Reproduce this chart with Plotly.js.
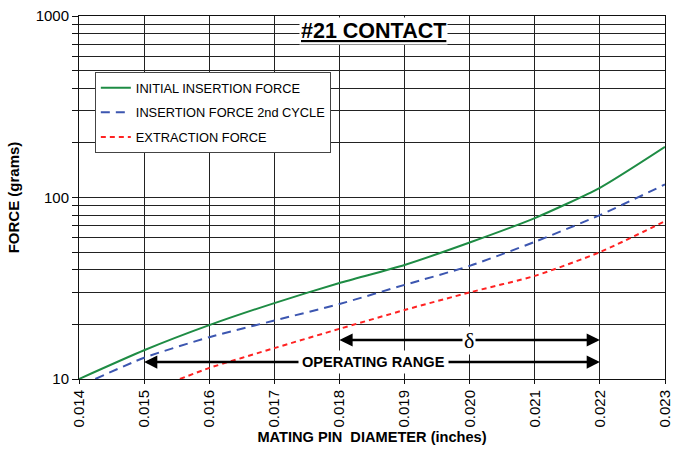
<!DOCTYPE html>
<html>
<head>
<meta charset="utf-8">
<script src="https://cdn.plot.ly/plotly-3.0.1.min.js"></script>
<style>html,body{margin:0;padding:0;background:#fff;}#chart{width:677px;height:450px;}</style>
</head>
<body>
<div id="chart"></div>
<script>
// ---- data ----
const initialX = [0.014, 0.015, 0.016, 0.017, 0.018, 0.019, 0.020, 0.021, 0.022, 0.023];
const initialY = [10, 14.4, 19.8, 26.2, 33.8, 42.5, 56.5, 77, 113, 190];

const secondX = [0.01425, 0.015, 0.016, 0.017, 0.018, 0.019, 0.020, 0.021, 0.022, 0.023];
const secondY = [10, 13.1, 17, 21, 25.9, 33, 42, 57, 80, 118];

const extractX = [0.01555, 0.016, 0.017, 0.018, 0.019, 0.020, 0.021, 0.022, 0.023];
const extractY = [10, 11.5, 14.8, 18.9, 24, 30, 37, 50, 74];

const xTicks = [0.014, 0.015, 0.016, 0.017, 0.018, 0.019, 0.020, 0.021, 0.022, 0.023];
const xTickText = xTicks.map(v => v.toFixed(3));
const yTicks = [10, 100, 1000];
const yMinor = [20, 30, 40, 50, 60, 70, 80, 90, 200, 300, 400, 500, 600, 700, 800, 900];

const opRange = [0.015, 0.022];   // OPERATING RANGE arrow ends
const deltaRange = [0.018, 0.022]; // delta arrow ends
const opLevel = 12.4, deltaLevel = 16.4;

const font = "Liberation Sans, Arial, Helvetica, sans-serif";

const traces = [
  {x: initialX, y: initialY, name: 'INITIAL INSERTION FORCE', mode: 'lines',
   line: {color: '#1e8c44', width: 2, shape: 'spline', smoothing: 0.6}, legendgroup: 'a'},
  {x: secondX, y: secondY, name: 'INSERTION FORCE 2nd CYCLE', mode: 'lines',
   line: {color: '#3c56b0', width: 2, dash: '9px,6px', shape: 'spline', smoothing: 0.6}, legendgroup: 'b'},
  {x: extractX, y: extractY, name: 'EXTRACTION FORCE', mode: 'lines',
   line: {color: '#ff2222', width: 2, dash: '5px,4px', shape: 'spline', smoothing: 0.6}, legendgroup: 'c'}
];

const L = Math.log10;
function arrow(xHead, xTail, yv) {
  return {x: xHead, y: L(yv), ax: xTail, ay: L(yv), axref: 'x', ayref: 'y', xref: 'x', yref: 'y',
          text: '', showarrow: true, arrowhead: 2, arrowsize: 1.1, arrowwidth: 2.4, arrowcolor: '#000'};
}
const opMid = (opRange[0] + opRange[1]) / 2 + 0.00001;
const annotations = [
  arrow(opRange[0], opMid, opLevel),
  arrow(opRange[1], opMid, opLevel),
  arrow(deltaRange[0], 0.020, deltaLevel),
  arrow(deltaRange[1], 0.020, deltaLevel),
  {x: 0.01852, y: L(opLevel), xref: 'x', yref: 'y', text: '<b>OPERATING RANGE</b>', showarrow: false,
   bgcolor: '#fff', font: {family: font, size: 14.6, color: '#000'}, borderpad: 3},
  {x: 0.01999, y: L(deltaLevel), xref: 'x', yref: 'y', text: 'δ', showarrow: false,
   bgcolor: '#fff', font: {family: 'Liberation Serif, Times New Roman, serif', size: 22, color: '#000'}, borderpad: 1},
  {x: 0.01852, y: L(830), xref: 'x', yref: 'y', text: '<b><u>#21 CONTACT</u></b>', showarrow: false,
   bgcolor: '#fff', font: {family: font, size: 21.5, color: '#000'}, borderpad: 1}
];

const layout = {
  width: 677, height: 450,
  margin: {l: 79, r: 12, t: 16, b: 71},
  paper_bgcolor: '#fff', plot_bgcolor: '#fff',
  font: {family: font, color: '#000'},
  showlegend: true,
  legend: {x: 0.027, y: 0.846, xanchor: 'left', yanchor: 'top', bgcolor: '#fff',
           bordercolor: '#444', borderwidth: 1, font: {family: font, size: 12.8, color: '#000'},
           traceorder: 'grouped', tracegroupgap: 5, itemwidth: 30},
  xaxis: {type: 'linear', range: [0.014, 0.023], tickmode: 'array', tickvals: xTicks, ticktext: xTickText,
          tickangle: -90, tickfont: {family: font, size: 15}, showgrid: true, gridcolor: '#222', gridwidth: 1,
          zeroline: false, showline: true, linecolor: '#111', linewidth: 1, mirror: true,
          ticks: 'outside', ticklen: 4, tickcolor: '#111',
          title: {text: '<b>MATING PIN  DIAMETER (inches)</b>', font: {family: font, size: 14.6}, standoff: 5}},
  yaxis: {type: 'log', range: [1, 3], tickmode: 'array', tickvals: yTicks, ticktext: ['10', '100', '1000'],
          tickfont: {family: font, size: 15}, showgrid: true, gridcolor: '#222', gridwidth: 1,
          zeroline: false, showline: true, linecolor: '#111', linewidth: 1, mirror: true,
          ticks: 'outside', ticklen: 6, tickcolor: '#111',
          minor: {tickmode: 'array', tickvals: yMinor, showgrid: true, gridcolor: '#222', gridwidth: 1,
                  ticks: 'outside', ticklen: 6, tickcolor: '#111'},
          title: {text: '<b>FORCE (grams)</b>', font: {family: font, size: 15}, standoff: 12}},
  annotations: annotations
};

Plotly.newPlot('chart', traces, layout, {staticPlot: true, displayModeBar: false});
</script>
</body>
</html>
